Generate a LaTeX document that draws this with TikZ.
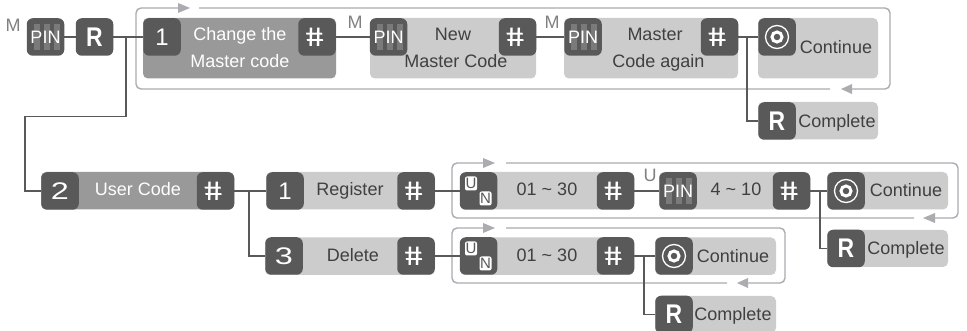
\documentclass[tikz,border=0pt]{standalone}
\usepackage{fontspec}
\usepackage{graphicx}
\setmainfont{Liberation Sans}
\newfontfamily\hashfont[FakeSlant=-0.2]{Liberation Sans Bold}
\newcommand{\hashmark}{\scalebox{1.2}[1]{\#}}
\newcommand{\widedigit}[1]{\scalebox{1.35}[1]{#1}}
\newcommand{\resetmark}{\scalebox{0.85}[1]{R}}
\definecolor{keygray}{HTML}{595959}
\definecolor{darkpanel}{HTML}{999999}
\definecolor{lightpanel}{HTML}{CCCCCC}
\definecolor{loopgray}{HTML}{ABABB0}
\definecolor{stripegray}{HTML}{7A7A7A}
\definecolor{labelgray}{HTML}{404040}
\tikzset{
  panel/.style={fill=lightpanel,rounded corners=5pt},
  panelmid/.style={panel,fill=darkpanel},
  keybox/.style={fill=keygray,rounded corners=6pt,minimum size=37.5pt,inner sep=0pt,text=white,font=\fontsize{24}{24}\selectfont},
  hashkey/.style={keybox,font=\fontsize{27}{27}\selectfont\hashfont},
  rkey/.style={keybox,font=\fontsize{27}{27}\selectfont\bfseries},
  pinkey/.style={keybox,font=\fontsize{18}{18}\selectfont,
    path picture={
      \fill[stripegray,sharp corners] (path picture bounding box.center) ++(-12pt,-13pt) rectangle ++(6pt,26pt);
      \fill[stripegray,sharp corners] (path picture bounding box.center) ++(-2pt,-13pt) rectangle ++(6pt,26pt);
      \fill[stripegray,sharp corners] (path picture bounding box.center) ++(8pt,-13pt) rectangle ++(6pt,26pt);
    }},
  okkey/.style={keybox,
    path picture={
      \draw[white,line width=1.3pt] (path picture bounding box.center) circle (11.5pt);
      \draw[white,line width=3pt] (path picture bounding box.center) circle (5pt);
    }},
  txt/.style={anchor=base,inner sep=0pt,text=labelgray,font=\fontsize{18}{18}\selectfont},
  whitetxt/.style={txt,text=white},
  codetag/.style={txt,text=gray},
  ubox/.style={fill=white,rounded corners=2pt,text=keygray,minimum width=12pt,minimum height=14pt,inner sep=0pt,font=\fontsize{15}{15}\selectfont},
  wire/.style={keygray,line width=1.1pt},
  loopline/.style={loopgray,line width=1.4pt,rounded corners=5pt},
  looptip/.style={fill=loopgray}
}
\begin{document}
\begin{tikzpicture}[x=1pt,y=-1pt]
  \useasboundingbox (0,0) rectangle (967,331);
  \clip (0,0) rectangle (967,331);

  % return loops
  \draw[loopline] (199,8) -- (890,8) -- (890,89) -- (852,89);
  \draw[loopline] (830,89) -- (136,89) -- (136,8) -- (178,8);
  \fill[looptip] (178,3) -- (190,8) -- (178,13) -- cycle;
  \fill[looptip] (852,84) -- (841,89) -- (852,94) -- cycle;

  \draw[loopline] (506,163) -- (958,163) -- (958,218) -- (935,218);
  \draw[loopline] (914,218) -- (452,218) -- (452,163) -- (483,163);
  \fill[looptip] (483,158) -- (495,163) -- (483,168) -- cycle;
  \fill[looptip] (935,213) -- (923,218) -- (935,223) -- cycle;

  \draw[loopline] (506,228) -- (785,228) -- (785,283) -- (748,283);
  \draw[loopline] (727,283) -- (452,283) -- (452,228) -- (483,228);
  \fill[looptip] (483,223) -- (495,228) -- (483,233) -- cycle;
  \fill[looptip] (748,278) -- (737,283) -- (748,288) -- cycle;

  % panels
  \fill[panelmid] (143,18) rectangle (336,78.5);
  \fill[panel] (370,18) rectangle (536,78.5);
  \fill[panel] (564,18) rectangle (738,78.5);
  \fill[panel] (758,18) rectangle (878,78.5);
  \fill[panel] (758,102) rectangle (878,139.5);
  \fill[panelmid] (41,172) rectangle (234,209.5);
  \fill[panel] (266,172) rectangle (435,209.5);
  \fill[panel] (265,237.5) rectangle (435,275);
  \fill[panel] (460,172) rectangle (634,209.5);
  \fill[panel] (659,172) rectangle (810,209.5);
  \fill[panel] (827,172) rectangle (948,209.5);
  \fill[panel] (827,230) rectangle (948,267);
  \fill[panel] (460,237.5) rectangle (634,275);
  \fill[panel] (655,237.5) rectangle (776,275);
  \fill[panel] (655,296) rectangle (776,333);

  % keys, first row
  \node[pinkey] (pinA) at (45.5,37) {PIN};
  \node[rkey] (resetA) at (94.5,37) {\resetmark};
  \node[keybox] (oneA) at (162,37) {1};
  \node[hashkey] (hashA) at (317,37) {\hashmark};
  \node[pinkey] (pinB) at (388.5,37) {PIN};
  \node[hashkey] (hashB) at (517.5,37) {\hashmark};
  \node[pinkey] (pinC) at (583,37) {PIN};
  \node[hashkey] (hashC) at (719.5,37) {\hashmark};
  \node[okkey] (okA) at (777,37) {};
  \node[rkey] (resetB) at (777,121) {\resetmark};

  % keys, second row
  \node[keybox] (two) at (60,191) {\widedigit{2}};
  \node[hashkey] (hashD) at (215.5,191) {\hashmark};
  \node[keybox] (oneB) at (285,191) {1};
  \node[hashkey] (hashE) at (416,191) {\hashmark};
  \node[keybox] (unA) at (478.5,191) {};
  \node[hashkey] (hashF) at (615.5,191) {\hashmark};
  \node[pinkey] (pinD) at (678,191) {PIN};
  \node[hashkey] (hashG) at (791.5,191) {\hashmark};
  \node[okkey] (okB) at (846,191) {};
  \node[rkey] (resetC) at (846,248.5) {\resetmark};

  % keys, third row
  \node[keybox] (three) at (284,256) {\widedigit{3}};
  \node[hashkey] (hashH) at (416,256) {\hashmark};
  \node[keybox] (unB) at (478.5,256) {};
  \node[hashkey] (hashI) at (615.5,256) {\hashmark};
  \node[okkey] (okC) at (674,256) {};
  \node[rkey] (resetD) at (674,314.5) {\resetmark};

  \node[ubox] (uA) at (471,183.5) {U};
  \node[ubox] (nA) at (485.5,198.5) {N};
  \node[ubox] (uB) at (471,248.5) {U};
  \node[ubox] (nB) at (485.5,263.5) {N};

  % junctions
  \coordinate (bendA) at (126,37);
  \coordinate (bendB) at (126,116.5);
  \coordinate (bendC) at (25,116.5);
  \coordinate (bendD) at (25,191);
  \coordinate (bendE) at (747,37);
  \coordinate (bendF) at (747,121);
  \coordinate (bendG) at (249,191);
  \coordinate (bendH) at (249,256);
  \coordinate (bendI) at (820,191);
  \coordinate (bendJ) at (820,248.5);
  \coordinate (bendK) at (644,256);
  \coordinate (bendL) at (644,314.5);

  % connectors
  \draw[wire] (pinA) -- (resetA);
  \draw[wire] (resetA) -- (oneA);
  \draw[wire] (hashA) -- (pinB);
  \draw[wire] (hashB) -- (pinC);
  \draw[wire] (hashC) -- (okA);
  \draw[wire] (bendA) -- (bendB) -- (bendC) -- (bendD) -- (two);
  \draw[wire] (bendE) -- (bendF) -- (resetB);
  \draw[wire] (hashD) -- (oneB);
  \draw[wire] (bendG) -- (bendH) -- (three);
  \draw[wire] (hashE) -- (unA);
  \draw[wire] (hashH) -- (unB);
  \draw[wire] (hashF) -- (pinD);
  \draw[wire] (hashG) -- (okB);
  \draw[wire] (bendI) -- (bendJ) -- (resetC);
  \draw[wire] (hashI) -- (okC);
  \draw[wire] (bendK) -- (bendL) -- (resetD);

  % texts
  \node[codetag] (tagA) at (13,32) {M};
  \node[codetag] (tagB) at (355,28.3) {M};
  \node[codetag] (tagC) at (552,28.3) {M};
  \node[codetag] (tagD) at (650,181.7) {U};
  \node[whitetxt] (changeA) at (240,40.7) {Change the};
  \node[whitetxt] (changeB) at (240,67.7) {Master code};
  \node[txt] (newA) at (453,40.7) {New};
  \node[txt] (newB) at (456,67.3) {Master Code};
  \node[txt] (againA) at (655,40.7) {Master};
  \node[txt] (againB) at (658.5,67.3) {Code again};
  \node[txt] (contA) at (836,54) {Continue};
  \node[txt] (compA) at (837,128) {Complete};
  \node[whitetxt] (user) at (138,196) {User Code};
  \node[txt] (regist) at (350,196) {Register};
  \node[txt] (delet) at (353,261.7) {Delete};
  \node[txt] (rangeA) at (547,196) {01 \textasciitilde\ 30};
  \node[txt] (lenA) at (736,196) {4 \textasciitilde\ 10};
  \node[txt] (contB) at (906,196.7) {Continue};
  \node[txt] (compB) at (906,255) {Complete};
  \node[txt] (rangeB) at (547,261.7) {01 \textasciitilde\ 30};
  \node[txt] (contC) at (733,262.7) {Continue};
  \node[txt] (compC) at (733,320.7) {Complete};
\end{tikzpicture}
\end{document}
